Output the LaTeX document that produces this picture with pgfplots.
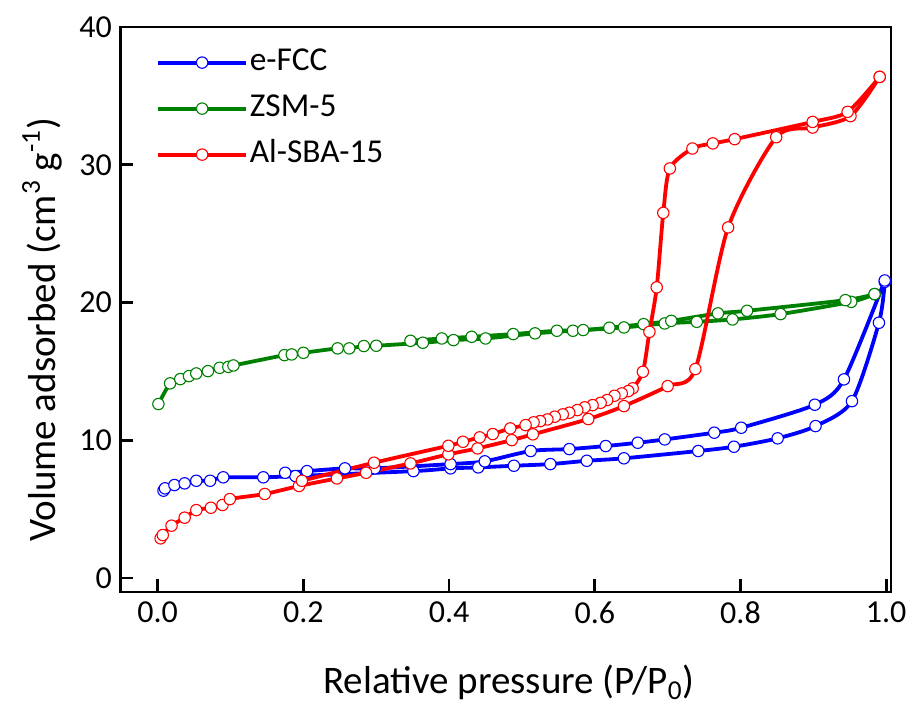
\documentclass[border=0pt]{standalone}
\usepackage{pgfplots}
\pgfplotsset{compat=1.18}
\usepackage{fontspec}
\setmainfont{Carlito}
\definecolor{cblue}{RGB}{0,0,255}
\definecolor{cgreen}{RGB}{0,128,0}
\definecolor{cred}{RGB}{255,0,0}
\pgfplotsset{
  iso/.style={line width=1.9pt, smooth, tension=0.45, mark=*, mark size=2.85pt,
    mark options={fill=white, draw=#1, line width=0.55pt, solid}, color=#1},
}
\begin{document}
\begin{tikzpicture}
\begin{axis}[
  scale only axis,
  width=385.2pt, height=282.5pt,
  xmin=-0.0509, xmax=1.0066,
  ymin=-1.016, ymax=40,
  xtick={0,0.2,0.4,0.6,0.8,1.0},
  xticklabels={0.0,0.2,0.4,0.6,0.8,1.0},
  ytick={0,10,20,30,40},
  tick align=inside, xtick pos=bottom, ytick pos=left,
  major tick length=6.3pt,
  axis line style={line width=1.3pt},
  every tick/.style={black, line width=1.3pt},
  /pgf/number format/assume math mode=true,
  tick label style={font=\fontsize{16}{18}\selectfont},
  yticklabel style={xshift=-0.8pt},
  xticklabel style={yshift=-1.5pt},
  xlabel={Relative pressure (P/P\textsubscript{0})},
  ylabel={Volume adsorbed (cm\textsuperscript{3} g\textsuperscript{-1})},
  xlabel style={at={(rel axis cs:0.504,0)}, anchor=base, yshift=-50.5pt, font=\fontsize{19.5}{22}\selectfont},
  ylabel style={at={(rel axis cs:-0.0851,0.464)}, anchor=base, font=\fontsize{19.5}{22}\selectfont},
  legend image code/.code={\draw[mark repeat=2,mark phase=2] plot coordinates {(0pt,0pt) (21.9pt,0pt) (43.8pt,0pt)};},
  legend style={draw=none, fill=none, at={(rel axis cs:0.046,0.966)}, anchor=north west,
    font=\fontsize{16.7}{20}\selectfont, row sep=7pt, inner sep=0pt,
    nodes={inner sep=1pt, text height=11pt, text depth=3pt}},
  legend cell align=left,
]
% e-FCC adsorption
\addplot[iso=cblue] coordinates {
(0.008,6.34) (0.010,6.51) (0.023,6.75) (0.037,6.87) (0.053,7.06) (0.072,7.06) (0.090,7.31)
(0.145,7.31) (0.189,7.40) (0.351,7.76) (0.402,7.96) (0.440,8.03) (0.489,8.15) (0.539,8.27)
(0.589,8.51) (0.640,8.69) (0.742,9.22) (0.791,9.53) (0.851,10.14) (0.903,11.03) (0.953,12.84)
(0.990,18.53) (0.998,21.5)};
\addlegendentry{e-FCC}
% e-FCC desorption
\addplot[iso=cblue, forget plot] coordinates {
(0.998,21.6) (0.942,14.42) (0.902,12.58) (0.801,10.91) (0.764,10.55) (0.696,10.06) (0.659,9.82)
(0.615,9.58) (0.565,9.36) (0.512,9.22) (0.449,8.47) (0.402,8.27) (0.298,7.96) (0.257,7.96)
(0.205,7.76) (0.175,7.64)};
% ZSM-5 adsorption
\addplot[iso=cgreen] coordinates {
(0.001,12.63) (0.017,14.13) (0.031,14.44) (0.043,14.66) (0.053,14.85) (0.069,15.02) (0.085,15.26)
(0.097,15.33) (0.104,15.43) (0.174,16.18) (0.184,16.23) (0.200,16.35) (0.247,16.67) (0.263,16.67)
(0.283,16.84) (0.300,16.86) (0.364,17.08) (0.406,17.27) (0.450,17.39) (0.518,17.76) (0.570,17.95)
(0.640,18.19) (0.696,18.48) (0.740,18.60) (0.789,18.77) (0.855,19.16) (0.952,20.05) (0.984,20.61)};
\addlegendentry{ZSM-5}
% ZSM-5 desorption
\addplot[iso=cgreen, forget plot] coordinates {
(0.984,20.61) (0.944,20.17) (0.809,19.40) (0.769,19.21) (0.705,18.67) (0.667,18.43) (0.620,18.17)
(0.584,18.00) (0.548,17.95) (0.488,17.71) (0.431,17.51) (0.390,17.39) (0.347,17.22)};
% Al-SBA-15 adsorption
\addplot[iso=cred] coordinates {
(0.004,2.88) (0.007,3.12) (0.019,3.80) (0.037,4.38) (0.053,4.93) (0.073,5.10) (0.089,5.30)
(0.099,5.73) (0.147,6.10) (0.194,6.68) (0.246,7.23) (0.286,7.64) (0.347,8.32) (0.399,8.98)
(0.439,9.41) (0.486,10.01) (0.515,10.43) (0.591,11.54) (0.640,12.48) (0.700,13.93) (0.738,15.17)
(0.783,25.45) (0.849,32.00) (0.899,32.70) (0.951,33.53) (0.991,36.38)};
\addlegendentry{Al-SBA-15}
% Al-SBA-15 desorption
\addplot[iso=cred, forget plot] coordinates {
(0.991,36.38) (0.947,33.84) (0.899,33.11) (0.792,31.86) (0.762,31.55) (0.734,31.18) (0.703,29.73)
(0.694,26.51) (0.685,21.10) (0.675,17.87) (0.666,14.97) (0.652,13.77) (0.646,13.57) (0.637,13.40)
(0.627,13.23) (0.617,12.92) (0.608,12.72) (0.597,12.55) (0.586,12.39) (0.576,12.19) (0.565,12.00)
(0.556,11.88) (0.545,11.71) (0.535,11.51) (0.525,11.39) (0.516,11.30) (0.505,11.10) (0.484,10.86)
(0.460,10.45) (0.442,10.21) (0.419,9.89) (0.399,9.60) (0.297,8.37) (0.198,7.06)};
\end{axis}
\pgfresetboundingbox
\path ([shift={(-60.3pt,-58pt)}]current axis.south west) rectangle ([shift={(8.5pt,13.5pt)}]current axis.north east);
\end{tikzpicture}
\end{document}
